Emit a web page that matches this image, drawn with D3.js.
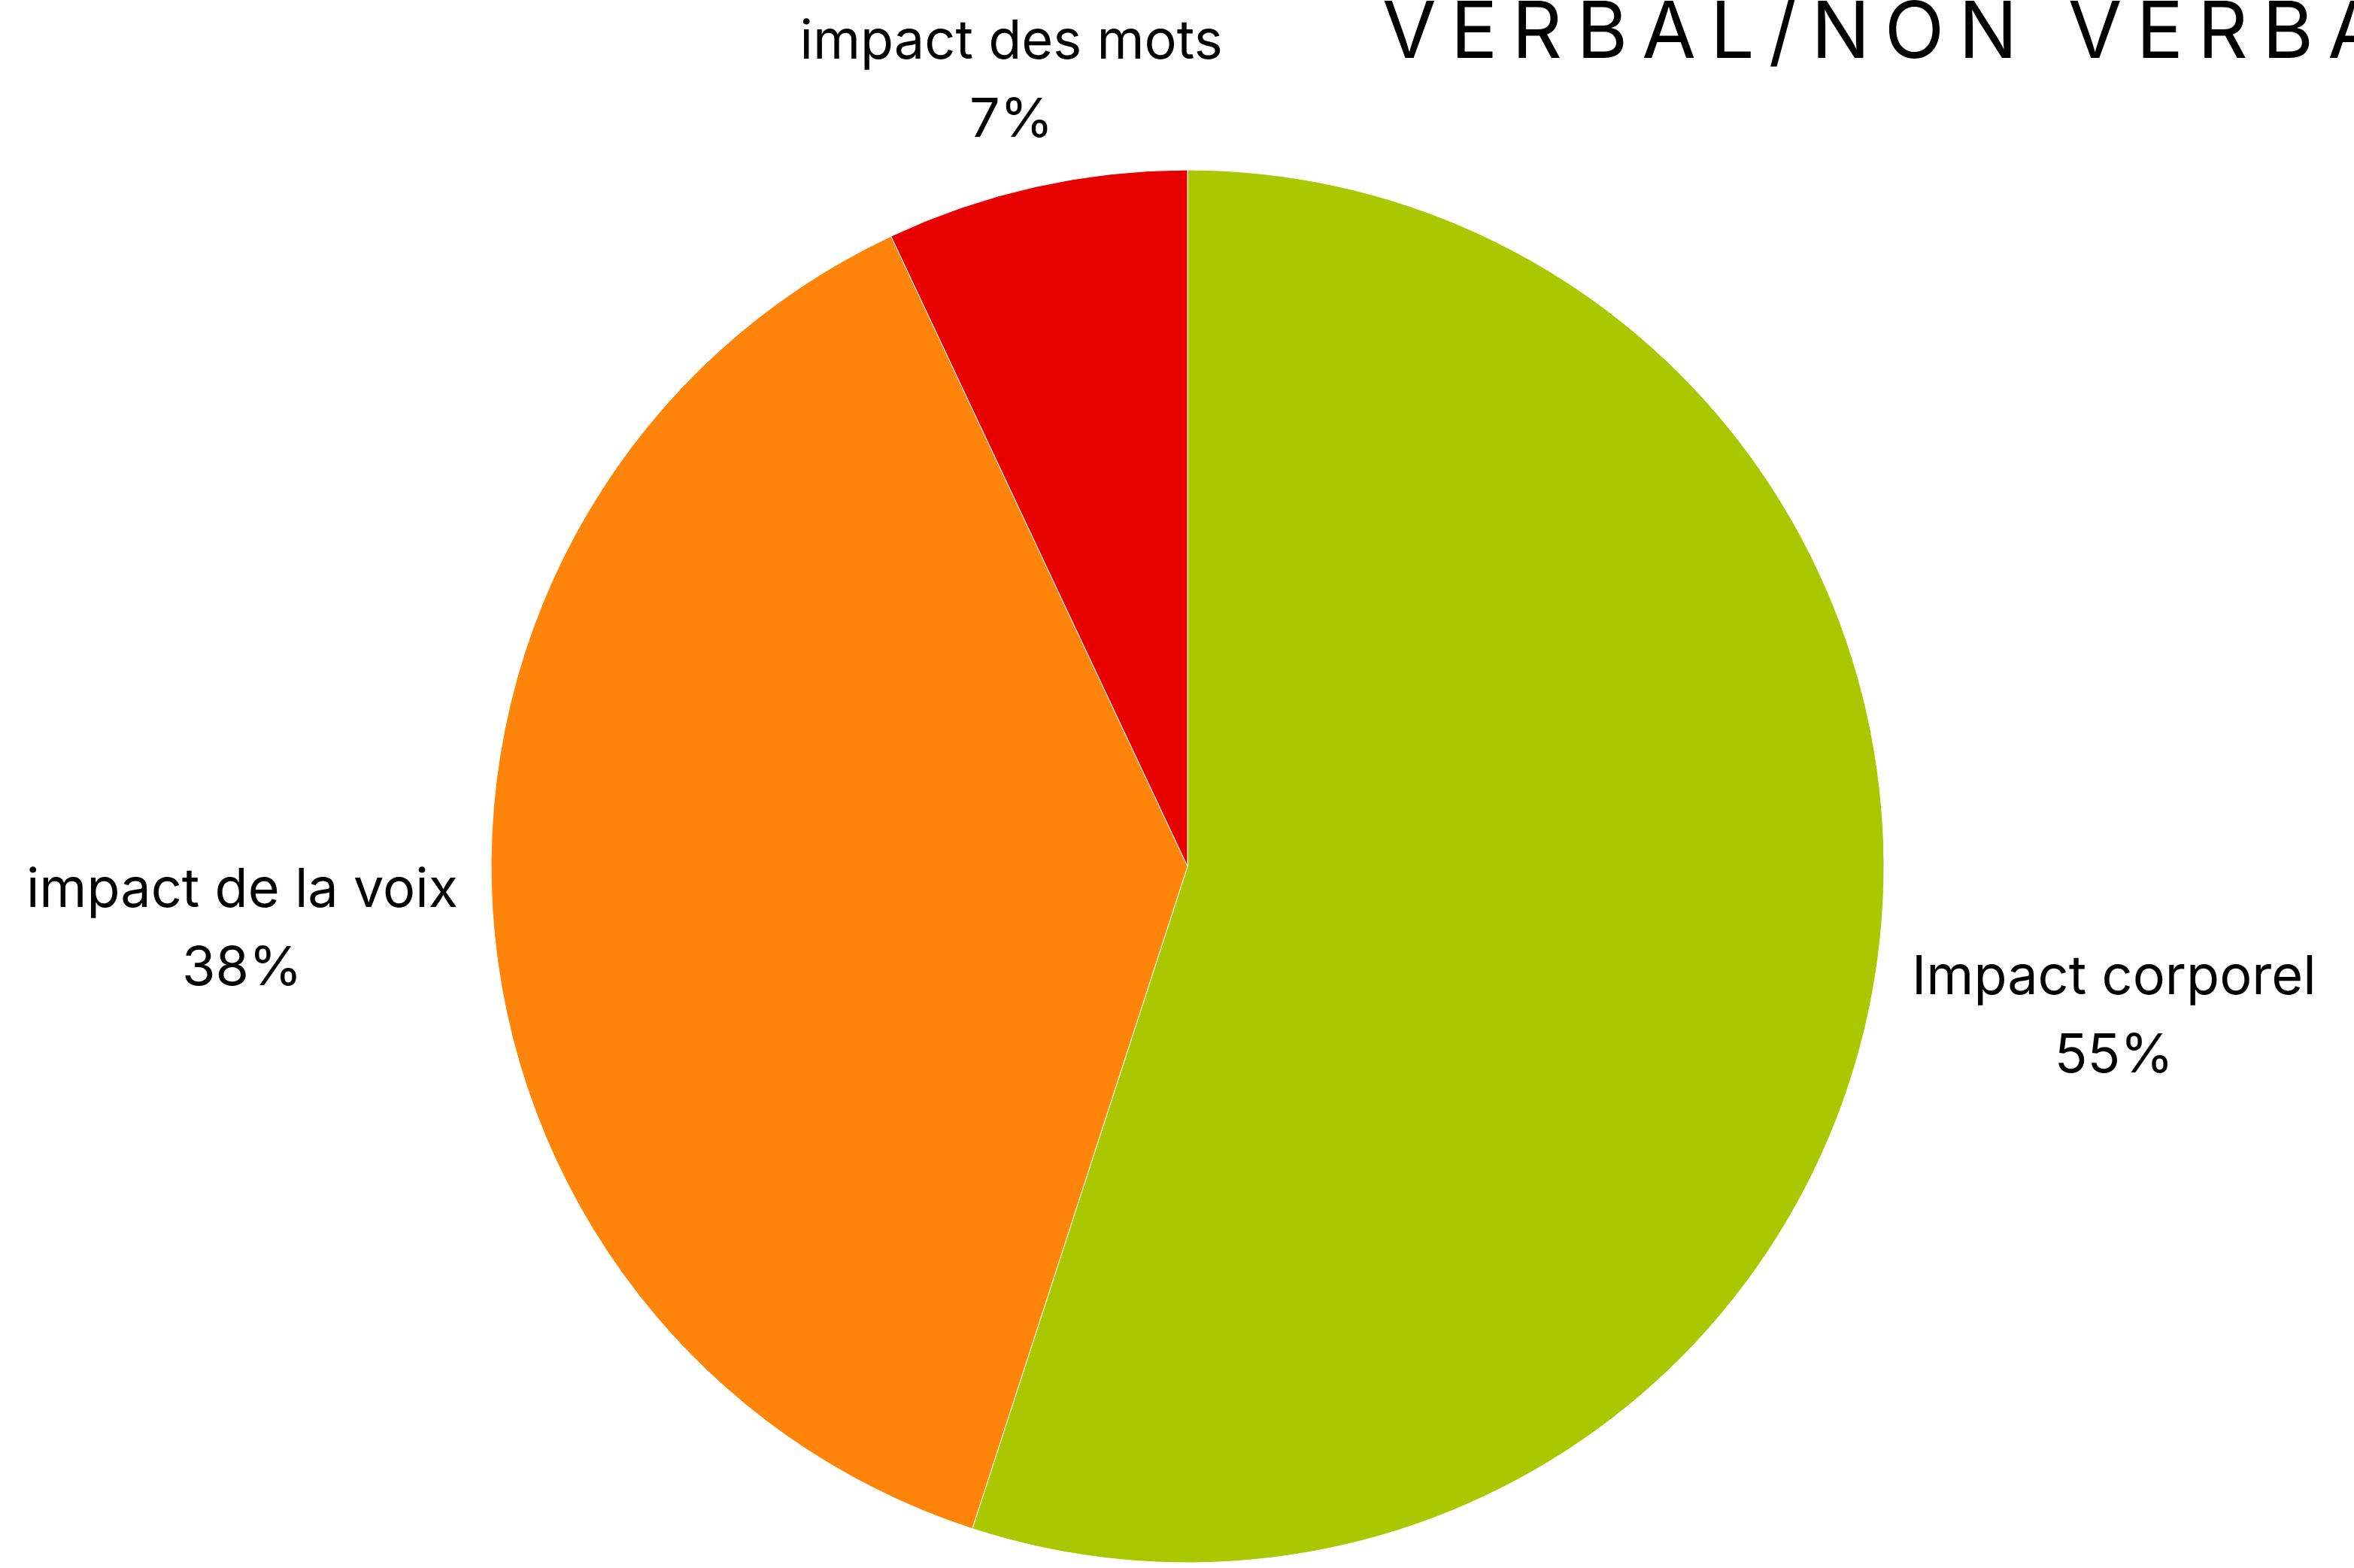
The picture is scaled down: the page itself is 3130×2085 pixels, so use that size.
<!DOCTYPE html>
<html>
<head>
<meta charset="utf-8">
<script src="https://cdn.jsdelivr.net/npm/d3@7"></script>
<style>
  body { margin: 0; background: #fff; }
  text { font-family: Inter, "Noto Sans", sans-serif; fill: #000; }
</style>
</head>
<body>
<div id="chart"></div>
<script>
// data
const categories = ["Impact corporel", "impact de la voix", "impact des mots"];
const values = [55, 38, 7];
const sliceColors = ["#aac800", "#ff850a", "#e60000"];
const title = "VERBAL/NON VERBAL";

const width = 3130;
const height = 2085;
const cx = 1579, cy = 1152;
const radius = 926;
const fontSize = 72;
const lineGap = 104;
const labelGap = 44;

const data = categories.map((c, i) => ({name: c, value: values[i], color: sliceColors[i]}));
const total = d3.sum(values);
const fmtPct = v => Math.round(v / total * 100) + "%";

const svg = d3.select("#chart").append("svg")
    .attr("width", width)
    .attr("height", height);

svg.append("rect")
    .attr("width", width)
    .attr("height", height)
    .attr("fill", "#fff");

svg.append("text")
    .attr("x", 1838)
    .attr("y", 77)
    .attr("font-size", 104)
    .attr("letter-spacing", 19)
    .text(title);

const pie = d3.pie().sort(null).value(d => d.value);
const arc = d3.arc().innerRadius(0).outerRadius(radius);

const g = svg.append("g")
    .attr("transform", `translate(${cx},${cy})`);

const arcs = pie(data);

g.selectAll("path")
  .data(arcs)
  .join("path")
    .attr("d", arc)
    .attr("fill", d => d.data.color)
    .attr("stroke", "#fff")
    .attr("stroke-width", 1);

// labels: two centred lines, pushed out along the mid angle until the box clears the pie
const label = g.selectAll("g.label")
  .data(arcs)
  .join("g")
    .attr("class", "label");

const txt = label.append("text")
    .attr("font-size", fontSize)
    .attr("text-anchor", "middle");
txt.append("tspan").attr("x", 0).attr("y", 0).text(d => d.data.name);
txt.append("tspan").attr("x", 0).attr("y", lineGap).text(d => fmtPct(d.data.value));

label.each(function (d) {
  const w = this.getBBox().width;
  const y0 = -0.74 * fontSize, y1 = lineGap;
  const midY = (y0 + y1) / 2;
  const hw = w / 2, hh = (y1 - y0) / 2;
  const a = (d.startAngle + d.endAngle) / 2;
  const sx = Math.sin(a), sy = -Math.cos(a);
  const dist = t => {
    const bx = sx * t, by = sy * t;
    const dx = Math.max(bx - hw, 0, -(bx + hw));
    const dy = Math.max(by - hh, 0, -(by + hh));
    return Math.hypot(dx, dy);
  };
  let lo = 0, hi = radius * 3;
  for (let k = 0; k < 60; k++) {
    const m = (lo + hi) / 2;
    if (dist(m) < radius + labelGap) lo = m; else hi = m;
  }
  const bx = sx * hi, by = sy * hi;
  d3.select(this).attr("transform", `translate(${bx},${by - midY})`);
});
</script>
</body>
</html>
